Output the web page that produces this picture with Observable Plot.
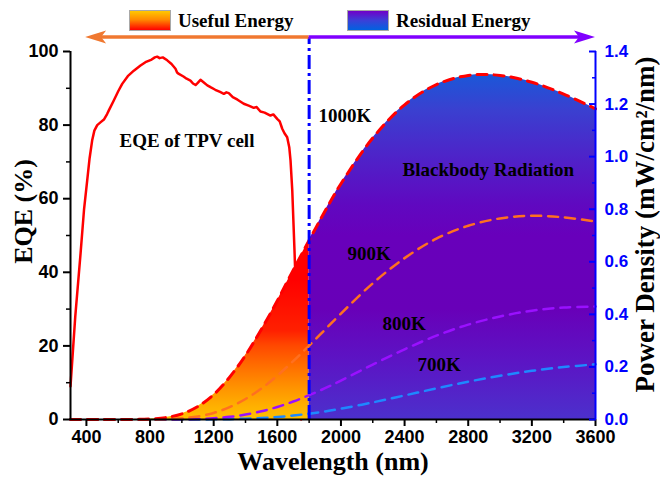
<!DOCTYPE html>
<html>
<head>
<meta charset="utf-8">
<script src="https://cdn.jsdelivr.net/npm/d3@7"></script>
<script src="https://cdn.jsdelivr.net/npm/@observablehq/plot@0.6"></script>
<style>
  body { margin: 0; background: #fff; }
  #wrap { position: relative; width: 660px; height: 480px; overflow: hidden; }
  #wrap svg { position: absolute; left: 0; top: 0; }
  .leg { position: absolute; top: 10px; height: 21px; display: flex; align-items: center;
         font: bold 19px "Liberation Serif", "Times New Roman", serif; color: #000; z-index: 2; white-space: nowrap; }
  .box { width: 40px; height: 19px; border: 1px solid #a8a8a8; margin-right: 7px; }
</style>
</head>
<body>
<div id="wrap">
  <div class="leg" style="left:129px"><div class="box" style="background:linear-gradient(#ffc800,#ff8a00 45%,#ff0000)"></div><span id="leg0"></span></div>
  <div class="leg" style="left:347px"><div class="box" style="background:linear-gradient(#7000c8,#3a40d8 50%,#0062e0)"></div><span id="leg1"></span></div>
</div>
<script>
// ---------------- data ----------------
const legendLabels = ["Useful Energy", "Residual Energy"];

// EQE of TPV cell (%)
const eqeW = [300,330,363,385,405,420,436,450,468,490,510,530,541,572,600,625,660,698,740,771,810,830,845,860,880,908,935,960,970,981,1010,1030,1054,1070,1086,1100,1117,1140,1160,1180,1210,1240,1264,1280,1295,1320,1350,1389,1420,1452,1470,1494,1520,1557,1575,1599,1615,1631,1645,1662,1675,1683,1694,1708,1720,1735,1750];
const eqeV = [9,28,45,57,65,71,75.8,78.5,80,80.8,81.5,83,84,86.7,89.2,91.2,93.3,94.8,96.2,97.1,97.8,98.4,98.6,98.2,98.4,97.6,96.6,95.3,94.3,93.9,93.2,92.6,92.1,91.3,90.9,91.5,92.3,91.5,90.8,90.3,89.6,89.0,88.5,88.9,88.7,87.6,86.9,85.8,85.3,84.7,84.9,83.7,83.4,82.6,82.9,81.7,81.0,79.0,77.8,76.7,74.0,70.4,62.2,45.9,30,12,0];

// Blackbody power density (mW/cm^2/nm)
const wavelengths = [300,500,700,800,900,1000,1100,1200,1300,1400,1500,1600,1700,1800,1900,2000,2200,2400,2600,2800,3000,3200,3400,3600];
const bb1000 = [0,0,0.0003,0.0018,0.0074,0.0215,0.0495,0.095,0.161,0.244,0.343,0.452,0.568,0.682,0.793,0.897,1.071,1.197,1.274,1.309,1.309,1.283,1.238,1.182];
const bb900  = [0,0,0,0.0002,0.0013,0.0044,0.0116,0.025,0.047,0.078,0.118,0.167,0.222,0.281,0.342,0.403,0.518,0.614,0.688,0.737,0.765,0.775,0.769,0.753];
const bb800  = [0,0,0,0,0.0001,0.0006,0.0019,0.0048,0.0101,0.0187,0.0312,0.0478,0.0684,0.0925,0.119,0.148,0.209,0.267,0.319,0.361,0.392,0.414,0.426,0.430];
const bb700  = [0,0,0,0,0,0,0.0002,0.0006,0.0014,0.0030,0.0056,0.0096,0.0151,0.0222,0.0308,0.0410,0.0650,0.0915,0.1185,0.1439,0.1663,0.1851,0.1994,0.2098];
const seriesNames = ["700K","800K","900K","1000K"];
const seriesValues = [bb700, bb800, bb900, bb1000];

const cutoff = 1800;            // boundary between useful / residual energy
const arrowTips = [395, 3600];  // arrow ends (nm)
const arrowLevel = 103.8;       // EQE units, above the frame

// axes ticks
const xMajor = [400,800,1200,1600,2000,2400,2800,3200,3600];
const xMinor = [600,1000,1400,1800,2200,2600,3000,3400];
const yMajor = [0,20,40,60,80,100];
const yMinor = [10,30,50,70,90];
const rMajor = [0,0.2,0.4,0.6,0.8,1.0,1.2,1.4];
const rMinor = [0.1,0.3,0.5,0.7,0.9,1.1,1.3];
const powerMax = 1.4;

// annotations
const titleText = ["EQE of TPV cell"];
const titleW = [1032];
const titleV = [75.8];
const annoText = ["1000K","Blackbody Radiation","900K","800K","700K"];
const annoW    = [1859,2387,2041,2261,2481];
const annoV    = [82.6,67.7,45.1,26.1,14.7];

// ---------------- styles ----------------
const SERIF = '"Liberation Serif", "Times New Roman", serif';
const SANS = '"Liberation Sans", Arial, sans-serif';
const seriesColors = ["#1e88ff","#9a10ff","#ff7020","#ff0000"];
const arrowColors = ["#f07830","#8000ff"];

document.getElementById("leg0").textContent = legendLabels[0];
document.getElementById("leg1").textContent = legendLabels[1];

const toLeft = p => p * 100 / powerMax;
const eqeRows = eqeW.map((w, i) => ({w, v: eqeV[i]}));
const bbRows = wavelengths.map((w, i) => ({w, p: bb1000[i]}));
const titleRows = titleText.map((t, i) => ({t, w: titleW[i], v: titleV[i]}));
const annoRows = annoText.map((t, i) => ({t, w: annoW[i], v: annoV[i]}));

const NS = "http://www.w3.org/2000/svg";
function gradientDefs(index, {y}) {
  const defs = document.createElementNS(NS, "defs");
  const mk = (id, stops) => {
    const g = document.createElementNS(NS, "linearGradient");
    g.setAttribute("id", id);
    g.setAttribute("gradientUnits", "userSpaceOnUse");
    g.setAttribute("x1", 0); g.setAttribute("x2", 0);
    g.setAttribute("y1", y(100)); g.setAttribute("y2", y(0));
    for (const [o, c] of stops) {
      const s = document.createElementNS(NS, "stop");
      s.setAttribute("offset", o); s.setAttribute("stop-color", c);
      g.appendChild(s);
    }
    defs.appendChild(g);
  };
  mk("gradUseful", [[0,"#ff0000"],[0.62,"#ff0000"],[0.76,"#ff2000"],[0.8,"#ff4800"],[0.85,"#ff6a00"],[0.91,"#ff9000"],[0.965,"#ffb000"],[1,"#ffc000"]]);
  mk("gradResidual", [[0,"#1060e0"],[0.06,"#1a58d8"],[0.16,"#3a40d0"],[0.3,"#5020c8"],[0.42,"#6008c0"],[0.5,"#6800bb"],[0.7,"#6800b8"],[0.84,"#5c14c4"],[1,"#4c30cc"]]);
  return defs;
}

function arrows(index, {x, y}) {
  const g = document.createElementNS(NS, "g");
  const yy = y(arrowLevel);
  arrowTips.forEach((tip, i) => {
    const x0 = x(cutoff), xt = x(tip), dir = Math.sign(xt - x0);
    const line = document.createElementNS(NS, "line");
    line.setAttribute("x1", x0); line.setAttribute("x2", xt - dir * 14);
    line.setAttribute("y1", yy); line.setAttribute("y2", yy);
    line.setAttribute("stroke", arrowColors[i]); line.setAttribute("stroke-width", 3.5);
    g.appendChild(line);
    const head = document.createElementNS(NS, "polygon");
    head.setAttribute("points", `${xt},${yy} ${xt - dir*21},${yy-6.5} ${xt - dir*16},${yy} ${xt - dir*21},${yy+6.5}`);
    head.setAttribute("fill", arrowColors[i]);
    g.appendChild(head);
  });
  return g;
}

const marks = [gradientDefs];
marks.push(Plot.line(eqeRows, {x: "w", y: "v", stroke: "#ff0000", strokeWidth: 2.5}));
marks.push(Plot.areaY(bbRows.filter(d => d.w <= cutoff), {x: "w", y: d => toLeft(d.p), fill: "url(#gradUseful)", curve: "catmull-rom"}));
marks.push(Plot.areaY(bbRows.filter(d => d.w >= cutoff), {x: "w", y: d => toLeft(d.p), fill: "url(#gradResidual)", curve: "catmull-rom"}));
seriesValues.forEach((vals, k) => {
  const rows = wavelengths.map((w, i) => ({w, p: vals[i]}));
  marks.push(Plot.line(rows, {x: "w", y: d => toLeft(d.p), stroke: seriesColors[k], strokeWidth: k === 3 ? 3 : 2.5, strokeDasharray: "10,7", curve: "catmull-rom"}));
});
marks.push(Plot.ruleX([cutoff], {y1: 0, y2: arrowLevel, stroke: "#0000ff", strokeWidth: 3, strokeDasharray: "14,4,3,4"}));
// axis lines
marks.push(Plot.ruleY([0], {stroke: "#000", strokeWidth: 2}));
marks.push(Plot.ruleX([300], {stroke: "#000", strokeWidth: 2}));
marks.push(Plot.ruleX([3600], {stroke: "#0000ff", strokeWidth: 2}));
// axes
marks.push(Plot.axisX(xMajor, {anchor: "bottom", tickSize: 7, tickPadding: 4, strokeWidth: 2, fontSize: 18, fontWeight: "bold", fontFamily: SANS, tickFormat: d => String(d), label: null}));
marks.push(Plot.axisX(xMinor, {anchor: "bottom", tickSize: 4, strokeWidth: 1.5, tickFormat: () => "", label: null}));
marks.push(Plot.axisY(yMajor, {anchor: "left", tickSize: 7, tickPadding: 5, strokeWidth: 2, fontSize: 18, fontWeight: "bold", fontFamily: SANS, tickFormat: d => String(d), label: null}));
marks.push(Plot.axisY(yMinor, {anchor: "left", tickSize: 4, strokeWidth: 1.5, tickFormat: () => "", label: null}));
marks.push(Plot.axisY(rMajor.map(toLeft), {anchor: "right", tickSize: -7, strokeWidth: 2, color: "#0000ff", tickFormat: () => "", label: null}));
marks.push(Plot.axisY(rMinor.map(toLeft), {anchor: "right", tickSize: -4, strokeWidth: 1.5, color: "#0000ff", tickFormat: () => "", label: null}));
marks.push(Plot.axisY(rMajor.map(toLeft), {anchor: "right", tickSize: 0, tickPadding: 9, color: "#0000ff", fontSize: 17, fontWeight: "bold", fontFamily: SANS, tickFormat: d => (d * powerMax / 100).toFixed(1), label: null}));
// axis titles
marks.push(Plot.text(["Wavelength (nm)"], {frameAnchor: "bottom", textAnchor: "middle", dy: 50, fontSize: 26, fontWeight: "bold", fontFamily: SERIF}));
marks.push(Plot.text(["EQE (%)"], {frameAnchor: "left", textAnchor: "middle", dx: -47, dy: -24, rotate: -90, fontSize: 26, fontWeight: "bold", fontFamily: SERIF}));
marks.push(Plot.text(["Power Density (mW/cm²/nm)"], {frameAnchor: "right", textAnchor: "middle", dx: 50, dy: -11, rotate: -90, fontSize: 27, fontWeight: "bold", fontFamily: SERIF}));
// annotations
marks.push(Plot.text(titleRows, {x: "w", y: "v", text: "t", textAnchor: "middle", fontSize: 19, fontWeight: "bold", fontFamily: SERIF, fill: "#000"}));
marks.push(Plot.text(annoRows, {x: "w", y: "v", text: "t", textAnchor: "start", fontSize: 19, fontWeight: "bold", fontFamily: SERIF, fill: "#000"}));
marks.push(arrows);

const chart = Plot.plot({
  width: 660, height: 480,
  marginTop: 51, marginBottom: 61, marginLeft: 70, marginRight: 65,
  x: {domain: [300, 3600]},
  y: {domain: [0, 100]},
  style: {fontFamily: SANS, background: "transparent", overflow: "visible"},
  marks
});
document.getElementById("wrap").appendChild(chart);
</script>
</body>
</html>
